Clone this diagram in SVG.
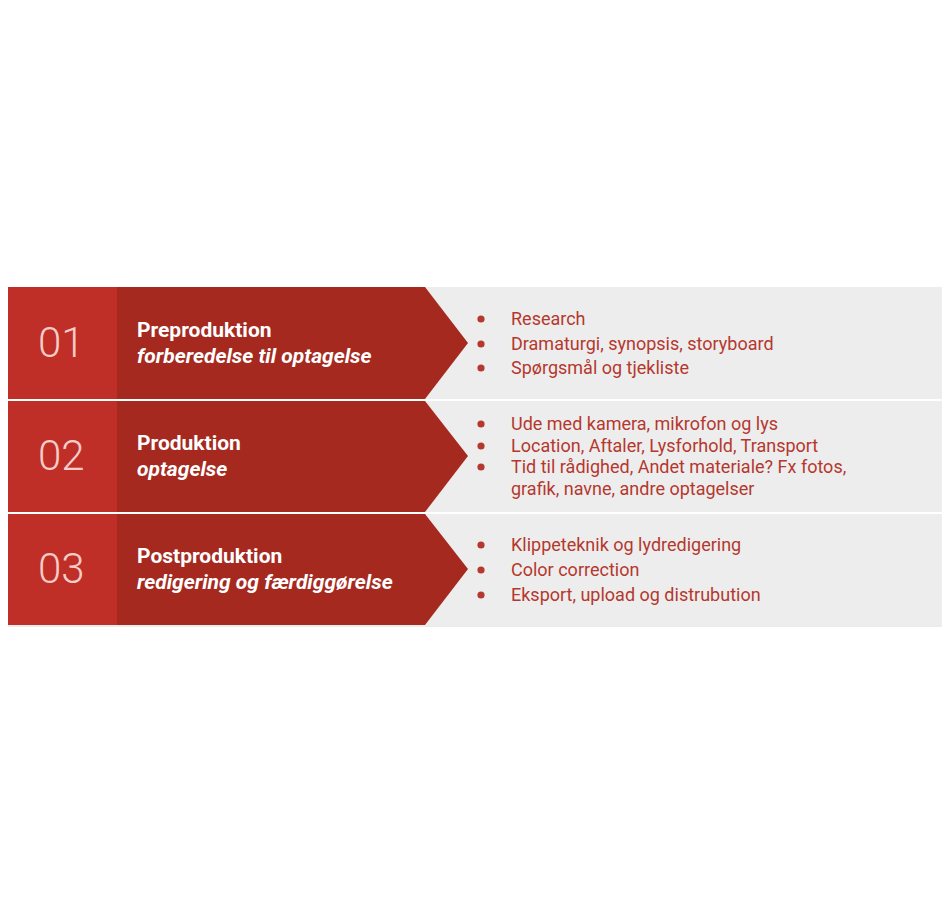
<svg xmlns="http://www.w3.org/2000/svg" width="952" height="903" viewBox="0 0 952 903">
<style>
.num{font-family:Roboto,"Liberation Sans",sans-serif;font-weight:300;font-size:42px;fill:#f6cdc8}
.title{font-family:Roboto,"Liberation Sans",sans-serif;font-weight:700;font-size:21px;fill:#ffffff}
.sub{font-family:Roboto,"Liberation Sans",sans-serif;font-weight:700;font-style:italic;font-size:21px;fill:#ffffff}
.item{font-family:Roboto,"Liberation Sans",sans-serif;font-weight:400;font-size:18px;fill:#b5382e}
.left{fill:#c02f27}
.band{fill:#a5291f}
.bg{fill:#ededed}
.dot{fill:#b5382e}
</style>
<rect width="952" height="903" fill="#ffffff"/>
<rect x="8" y="625" width="934" height="2" fill="#ececec"/>
<g id="row1">
<rect class="bg" x="420" y="287" width="522" height="112"/>
<rect class="left" x="8" y="287" width="109" height="112"/>
<polygon class="band" points="117,287 425,287 468,343 425,399 117,399"/>
<text class="num" x="38" y="357">01</text>
<text class="title" x="137" y="337">Preproduktion</text>
<text class="sub" x="137" y="363">forberedelse til optagelse</text>
<circle class="dot" cx="481" cy="319" r="3.6"/>
<circle class="dot" cx="481" cy="344" r="3.6"/>
<circle class="dot" cx="481" cy="368" r="3.6"/>
<text class="item" x="511" y="325">Research</text>
<text class="item" x="511" y="350">Dramaturgi, synopsis, storyboard</text>
<text class="item" x="511" y="374">Spørgsmål og tjekliste</text>
</g>
<g id="row2">
<rect class="bg" x="420" y="401" width="522" height="111"/>
<rect class="left" x="8" y="401" width="109" height="111"/>
<polygon class="band" points="117,401 425,401 468,456 425,512 117,512"/>
<text class="num" x="38" y="470">02</text>
<text class="title" x="137" y="450">Produktion</text>
<text class="sub" x="137" y="476">optagelse</text>
<circle class="dot" cx="481" cy="424" r="3.6"/>
<circle class="dot" cx="481" cy="446" r="3.6"/>
<circle class="dot" cx="481" cy="467" r="3.6"/>
<text class="item" x="511" y="430">Ude med kamera, mikrofon og lys</text>
<text class="item" x="511" y="452">Location, Aftaler, Lysforhold, Transport</text>
<text class="item" x="511" y="473">Tid til rådighed, Andet materiale? Fx fotos,</text>
<text class="item" x="511" y="495">grafik, navne, andre optagelser</text>
</g>
<g id="row3">
<rect class="bg" x="420" y="514" width="522" height="111"/>
<rect class="left" x="8" y="514" width="109" height="111"/>
<polygon class="band" points="117,514 425,514 468,569 425,625 117,625"/>
<text class="num" x="38" y="583">03</text>
<text class="title" x="137" y="563">Postproduktion</text>
<text class="sub" x="137" y="589">redigering og færdiggørelse</text>
<circle class="dot" cx="481" cy="545" r="3.6"/>
<circle class="dot" cx="481" cy="570" r="3.6"/>
<circle class="dot" cx="481" cy="595" r="3.6"/>
<text class="item" x="511" y="551">Klippeteknik og lydredigering</text>
<text class="item" x="511" y="576">Color correction</text>
<text class="item" x="511" y="601">Eksport, upload og distrubution</text>
</g>
<g id="connectors"></g>
</svg>
